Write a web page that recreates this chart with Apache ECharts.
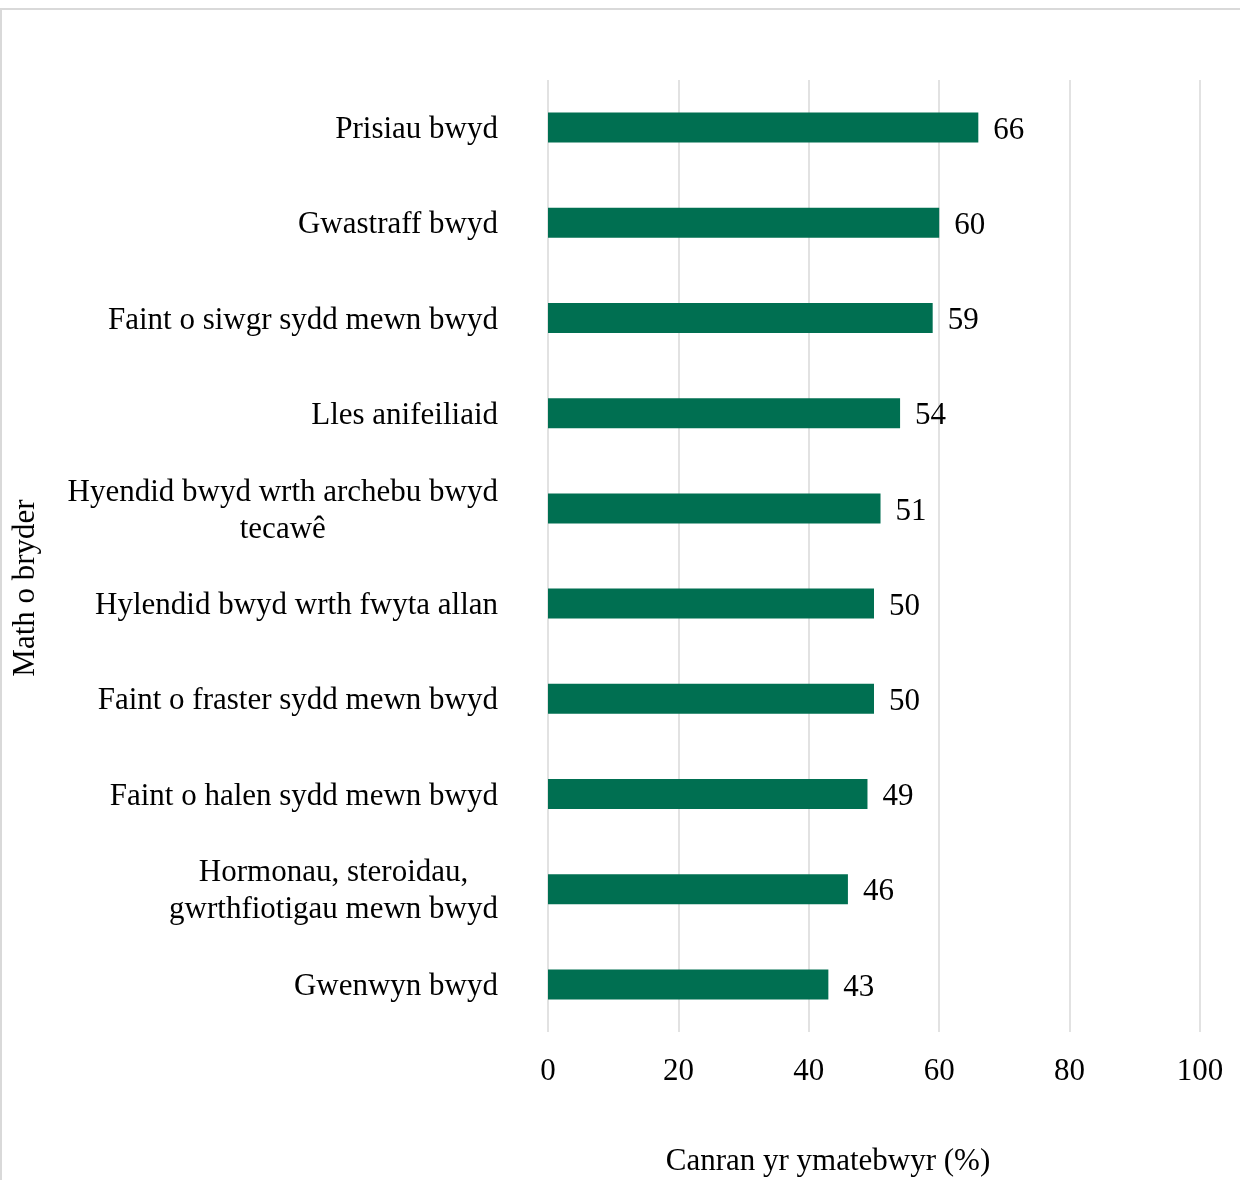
<!DOCTYPE html>
<html>
<head>
<meta charset="utf-8">
<script src="https://cdn.jsdelivr.net/npm/echarts@6/dist/echarts.min.js"></script>
<style>
html,body{margin:0;padding:0;background:#fff;}
#chart{width:1240px;height:1180px;}
</style>
</head>
<body>
<div id="chart"></div>
<script>
const categories = [
  "Prisiau bwyd",
  "Gwastraff bwyd",
  "Faint o siwgr sydd mewn bwyd",
  "Lles anifeiliaid",
  "Hyendid bwyd wrth archebu bwyd\ntecawê",
  "Hylendid bwyd wrth fwyta allan",
  "Faint o fraster sydd mewn bwyd",
  "Faint o halen sydd mewn bwyd",
  "Hormonau, steroidau,\ngwrthfiotigau mewn bwyd",
  "Gwenwyn bwyd"
];
const values = [66, 60, 59, 54, 51, 50, 50, 49, 46, 43];
const xTicks = [0, 20, 40, 60, 80, 100];
const xAxisTitle = "Canran yr ymatebwyr (%)";
const yAxisTitle = "Math o bryder";

const FONT = "'Liberation Serif', 'Times New Roman', serif";
const FS = 31;
const chart = echarts.init(document.getElementById('chart'));
chart.setOption({
  backgroundColor: '#fff',
  animation: false,
  grid: { left: 548, right: 40, top: 80, bottom: 148, containLabel: false },
  graphic: [
    { type: 'rect', shape: { x: 1, y: 9, width: 1250, height: 1200 },
      style: { fill: 'none', stroke: '#d9d9d9', lineWidth: 2 }, silent: true, z: -1 },
    { type: 'text', x: 828, y: 1162,
      style: { text: xAxisTitle, font: FS + 'px ' + FONT, fill: '#000', align: 'center', verticalAlign: 'middle' } },
    { type: 'text', x: 26, y: 588, rotation: Math.PI / 2,
      style: { text: yAxisTitle, font: FS + 'px ' + FONT, fill: '#000', align: 'center', verticalAlign: 'middle' } }
  ],
  xAxis: {
    type: 'value', min: xTicks[0], max: xTicks[xTicks.length - 1], interval: xTicks[1] - xTicks[0],
    axisLine: { show: false }, axisTick: { show: false },
    splitLine: { show: true, lineStyle: { color: '#d9d9d9', width: 1.5 } },
    axisLabel: { fontFamily: FONT, fontSize: FS, color: '#000', margin: 24 }
  },
  yAxis: {
    type: 'category', data: categories, inverse: true,
    axisLine: { show: false }, axisTick: { show: false }, splitLine: { show: false },
    axisLabel: {
      margin: 50, align: 'right', color: '#000',
      formatter: function (v) { return v.split('\n').map(function (s) { return '{c|' + s + '}'; }).join('\n'); },
      rich: { c: { fontFamily: FONT, fontSize: FS, color: '#000', align: 'center', lineHeight: 37, padding: [5, 0, 0, 0] } }
    }
  },
  series: [{
    type: 'bar', data: values, barWidth: 30,
    itemStyle: { color: '#006f51' },
    label: { show: true, position: 'right', distance: 15, offset: [0, 3], fontFamily: FONT, fontSize: FS, color: '#000' }
  }]
});
</script>
</body>
</html>
